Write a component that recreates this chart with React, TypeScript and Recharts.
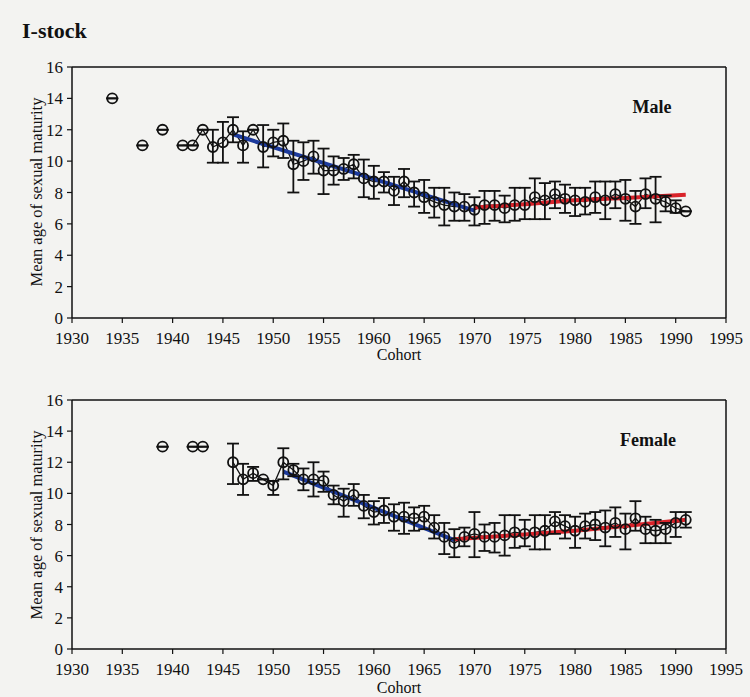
import React from 'react';
import { ComposedChart, Line, XAxis, YAxis, ErrorBar, ReferenceLine } from 'recharts';

const xTicks = [1930, 1935, 1940, 1945, 1950, 1955, 1960, 1965, 1970, 1975, 1980, 1985, 1990, 1995];
const yTicks = [0, 2, 4, 6, 8, 10, 12, 14, 16];

// Male
const maleYears = [1934, 1937, 1939, 1941, 1942, 1943, 1944, 1945, 1946, 1947, 1948, 1949, 1950, 1951, 1952, 1953, 1954, 1955, 1956, 1957, 1958, 1959, 1960, 1961, 1962, 1963, 1964, 1965, 1966, 1967, 1968, 1969, 1970, 1971, 1972, 1973, 1974, 1975, 1976, 1977, 1978, 1979, 1980, 1981, 1982, 1983, 1984, 1985, 1986, 1987, 1988, 1989, 1990, 1991];
const maleMean = [14.0, 11.0, 12.0, 11.0, 11.0, 12.0, 10.9, 11.2, 12.0, 11.0, 12.0, 10.9, 11.2, 11.3, 9.8, 10.0, 10.3, 9.4, 9.4, 9.5, 9.8, 8.9, 8.7, 8.7, 8.1, 8.7, 8.0, 7.7, 7.4, 7.2, 7.1, 7.1, 6.9, 7.2, 7.2, 7.0, 7.2, 7.2, 7.7, 7.5, 7.9, 7.6, 7.5, 7.4, 7.7, 7.5, 7.9, 7.6, 7.1, 7.9, 7.6, 7.4, 7.0, 6.8];
const maleLow = [14.0, 11.0, 12.0, 11.0, 11.0, 12.0, 9.9, 9.9, 11.2, 9.9, 12.0, 9.6, 10.3, 10.2, 8.0, 8.8, 9.2, 7.9, 8.5, 8.8, 8.9, 7.7, 7.6, 8.0, 7.2, 7.7, 7.1, 6.7, 6.4, 5.9, 6.2, 6.2, 5.9, 6.0, 6.2, 6.1, 6.2, 6.3, 6.3, 6.3, 7.0, 6.7, 6.5, 6.6, 6.7, 6.3, 7.0, 6.2, 6.0, 7.0, 6.1, 6.8, 6.7, 6.8];
const maleHigh = [14.0, 11.0, 12.0, 11.0, 11.0, 12.0, 12.0, 12.5, 12.8, 11.9, 12.0, 12.3, 12.0, 12.4, 11.3, 11.2, 11.3, 10.8, 10.3, 10.2, 10.4, 10.1, 9.7, 9.3, 9.0, 9.5, 8.7, 8.8, 8.3, 8.3, 8.0, 7.9, 7.7, 8.1, 8.1, 7.8, 8.3, 8.3, 8.9, 8.6, 8.7, 8.5, 8.3, 8.3, 8.7, 8.7, 8.7, 8.8, 8.1, 8.9, 9.0, 7.8, 7.5, 6.8];
const maleDownYears = [1946, 1970];
const maleDownValues = [11.7, 6.85];
const maleUpYears = [1970, 1975, 1980, 1985, 1991];
const maleUpValues = [7.05, 7.25, 7.5, 7.65, 7.85];

// Female
const femaleYears = [1939, 1942, 1943, 1946, 1947, 1948, 1949, 1950, 1951, 1952, 1953, 1954, 1955, 1956, 1957, 1958, 1959, 1960, 1961, 1962, 1963, 1964, 1965, 1966, 1967, 1968, 1969, 1970, 1971, 1972, 1973, 1974, 1975, 1976, 1977, 1978, 1979, 1980, 1981, 1982, 1983, 1984, 1985, 1986, 1987, 1988, 1989, 1990, 1991];
const femaleMean = [13.0, 13.0, 13.0, 12.0, 10.9, 11.3, 10.9, 10.5, 12.0, 11.5, 10.9, 10.9, 10.8, 9.9, 9.5, 9.9, 9.2, 8.8, 8.9, 8.5, 8.5, 8.4, 8.5, 7.8, 7.2, 6.8, 7.2, 7.4, 7.2, 7.2, 7.3, 7.5, 7.4, 7.5, 7.6, 8.2, 7.9, 7.6, 7.9, 8.0, 7.8, 8.1, 7.7, 8.4, 7.7, 7.6, 7.7, 8.1, 8.3];
const femaleLow = [13.0, 13.0, 13.0, 10.6, 9.9, 10.8, 10.9, 9.9, 10.9, 11.1, 10.2, 9.8, 10.1, 9.3, 8.5, 9.2, 8.4, 8.0, 8.1, 7.6, 7.4, 7.6, 7.7, 7.1, 6.1, 5.9, 6.6, 5.9, 6.3, 6.2, 6.0, 6.5, 6.6, 6.4, 6.4, 7.4, 7.1, 6.5, 7.1, 7.0, 6.6, 7.2, 6.4, 7.6, 6.8, 6.8, 6.8, 7.2, 7.8];
const femaleHigh = [13.0, 13.0, 13.0, 13.2, 11.9, 11.7, 10.9, 10.8, 12.9, 11.9, 11.6, 12.0, 11.4, 10.5, 10.3, 10.6, 9.9, 9.5, 9.7, 9.3, 9.4, 9.1, 9.2, 8.6, 8.1, 7.7, 7.8, 8.8, 8.0, 8.1, 8.6, 8.6, 8.3, 8.6, 8.6, 8.8, 8.6, 8.5, 8.7, 8.8, 8.9, 9.1, 8.7, 9.5, 8.5, 8.3, 8.1, 8.8, 8.8];
const femaleDownYears = [1951, 1968];
const femaleDownValues = [11.4, 7.0];
const femaleUpYears = [1968, 1975, 1980, 1985, 1991];
const femaleUpValues = [7.05, 7.35, 7.6, 7.9, 8.3];

type Row = { year: number; mean: number | null; err: number[] | null; down: number | null; up: number | null };

function buildRows(
  years: number[], mean: number[], low: number[], high: number[],
  dY: number[], dV: number[], uY: number[], uV: number[]
): Row[] {
  const rows: Row[] = [];
  for (let y = 1930; y <= 1995; y++) {
    const i = years.indexOf(y);
    const d = dY.indexOf(y);
    const u = uY.indexOf(y);
    rows.push({
      year: y,
      mean: i >= 0 ? mean[i] : null,
      err: i >= 0 ? [Math.max(0, +(mean[i] - low[i]).toFixed(2)), Math.max(0, +(high[i] - mean[i]).toFixed(2))] : null,
      down: d >= 0 ? dV[d] : null,
      up: u >= 0 ? uV[u] : null,
    });
  }
  return rows;
}

const maleRows = buildRows(maleYears, maleMean, maleLow, maleHigh, maleDownYears, maleDownValues, maleUpYears, maleUpValues);
const femaleRows = buildRows(femaleYears, femaleMean, femaleLow, femaleHigh, femaleDownYears, femaleDownValues, femaleUpYears, femaleUpValues);

const FONT = '"Liberation Serif", "DejaVu Serif", serif';
const BG = '#f3f3f1';

const OpenDot = (props: any) => {
  const { cx, cy, index } = props;
  if (cx == null || cy == null || props.value == null) return <g key={`d${index}`} />;
  return <circle key={`d${index}`} cx={cx} cy={cy} r={5} fill="none" stroke="#111" strokeWidth={1.8} />;
};

function Panel({ rows, height }: { rows: Row[]; height: number }) {
  return (
    <ComposedChart width={750} height={height} data={rows} margin={{ top: 67, right: 24, left: 32, bottom: 12 }}>
      <XAxis
        dataKey="year"
        type="number"
        domain={[1930, 1995]}
        ticks={xTicks}
        height={30}
        interval={0}
        tickSize={5}
        tickMargin={9}
        axisLine={{ stroke: '#111', strokeWidth: 1.5 }}
        tickLine={{ stroke: '#111', strokeWidth: 1.2 }}
        tick={{ fill: '#111', fontFamily: FONT, fontSize: 17 }}
      />
      <YAxis
        type="number"
        domain={[0, 16]}
        ticks={yTicks}
        width={40}
        interval={0}
        tickSize={5}
        tickMargin={4}
        axisLine={{ stroke: '#111', strokeWidth: 1.5 }}
        tickLine={{ stroke: '#111', strokeWidth: 1.2 }}
        tick={{ fill: '#111', fontFamily: FONT, fontSize: 17 }}
      />
      <ReferenceLine y={16} stroke="#111" strokeWidth={1.7} />
      <ReferenceLine x={1995} stroke="#111" strokeWidth={1.5} />
      <Line dataKey="mean" stroke="#111" strokeWidth={1.3} dot={false} activeDot={false} isAnimationActive={false} connectNulls={false} type="linear" />
      <Line dataKey="down" stroke="#1c3a9c" strokeWidth={4} dot={false} activeDot={false} isAnimationActive={false} connectNulls type="linear" />
      <Line dataKey="up" stroke="#d9232a" strokeWidth={4} dot={false} activeDot={false} isAnimationActive={false} connectNulls type="monotone" />
      <Line dataKey="mean" stroke="none" strokeWidth={0} dot={OpenDot} activeDot={false} isAnimationActive={false} connectNulls={false} type="linear">
        <ErrorBar dataKey="err" direction="y" width={6} stroke="#111" strokeWidth={1.8} isAnimationActive={false} />
      </Line>
    </ComposedChart>
  );
}

export default function App() {
  return (
    <div style={{ position: 'absolute', left: 0, top: 0, width: 750, height: 697, background: BG, overflow: 'hidden' }}>
      <div style={{ position: 'absolute', left: 0, top: 0 }}>
        <Panel rows={maleRows} height={360} />
      </div>
      <div style={{ position: 'absolute', left: 0, top: 333 }}>
        <Panel rows={femaleRows} height={358} />
      </div>
      <svg width={750} height={697} style={{ position: 'absolute', left: 0, top: 0, pointerEvents: 'none' }}>
        <text x={22} y={38} fontFamily={FONT} fontWeight="bold" fontSize={22} fill="#111">I-stock</text>
        <text x={652} y={113} fontFamily={FONT} fontWeight="bold" fontSize={18} fill="#111" textAnchor="middle">Male</text>
        <text x={648} y={446} fontFamily={FONT} fontWeight="bold" fontSize={18} fill="#111" textAnchor="middle">Female</text>
        <text x={42} y={192} fontFamily={FONT} fontSize={16.5} fill="#111" textAnchor="middle" transform="rotate(-90 42 192)">Mean age of sexual maturity</text>
        <text x={42} y={525} fontFamily={FONT} fontSize={16.5} fill="#111" textAnchor="middle" transform="rotate(-90 42 525)">Mean age of sexual maturity</text>
        <text x={399} y={360} fontFamily={FONT} fontSize={16} fill="#111" textAnchor="middle">Cohort</text>
        <text x={399} y={693} fontFamily={FONT} fontSize={16} fill="#111" textAnchor="middle">Cohort</text>
      </svg>
    </div>
  );
}
